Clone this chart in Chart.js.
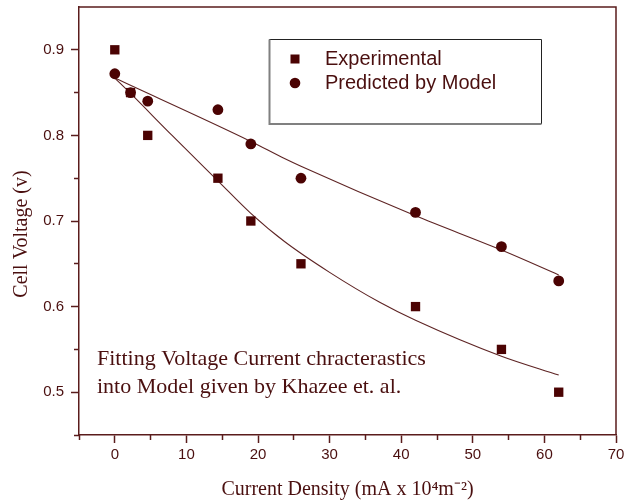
<!DOCTYPE html>
<html>
<head>
<meta charset="utf-8">
<script src="https://cdn.jsdelivr.net/npm/chart.js@4.4.0/dist/chart.umd.min.js"></script>
<style>
  html, body { margin: 0; padding: 0; background: #fff; }
  #wrap { width: 631px; height: 503px; }
</style>
</head>
<body>
<div id="wrap"><canvas id="chart" width="631" height="503"></canvas></div>
<script>
// measured points
const currentDensity = [0, 2.2, 4.6, 14.4, 19, 26, 42, 54, 62];
const experimental = [0.90, 0.85, 0.80, 0.75, 0.70, 0.65, 0.60, 0.55, 0.50];
const predicted = [0.872, 0.85, 0.84, 0.83, 0.79, 0.75, 0.71, 0.67, 0.63];

// fitted curves
const expFitX = [0, 2.2, 8, 14.4, 19, 23.7, 30, 37, 42, 54, 62];
const expFitY = [0.867, 0.849, 0.800, 0.747, 0.709, 0.676, 0.640, 0.605, 0.584, 0.542, 0.520];
const modelFitX = [0, 19, 23.7, 26, 42, 54, 62];
const modelFitY = [0.867, 0.793, 0.773, 0.764, 0.706, 0.666, 0.637];

// axes
const xTicks = [0, 10, 20, 30, 40, 50, 60, 70];
const xMinorTicks = [-5, 5, 15, 25, 35, 45, 55, 65];
const yTicks = [0.5, 0.6, 0.7, 0.8, 0.9];
const yMinorTicks = [0.45, 0.55, 0.65, 0.75, 0.85];

const markColor = "#4b0303";
const lineColor = "#5e2424";
const axisColor = "#5a1c1c";
const textColor = "#4a0f0f";
const sans = "'Liberation Sans', Arial, sans-serif";
const serif = "'Liberation Serif', 'Times New Roman', serif";

const pts = (xs, ys) => xs.map((x, i) => ({ x: x, y: ys[i] }));
const setTicks = arr => scale => { scale.ticks = arr.map(v => ({ value: v })); };
const noPad = s => { s.paddingTop = 0; s.paddingBottom = 0; s.paddingLeft = 0; s.paddingRight = 0; };

// frame, y title, legend box and the note
const extras = {
  id: "extras",
  afterDraw(chart) {
    const ctx = chart.ctx;
    const a = chart.chartArea;
    ctx.save();
    ctx.strokeStyle = axisColor;
    ctx.lineWidth = 1.5;
    ctx.beginPath();
    ctx.moveTo(a.left, a.top);
    ctx.lineTo(a.right, a.top);
    ctx.lineTo(a.right, a.bottom);
    ctx.stroke();

    // y title, sits a little below the middle in the original
    ctx.save();
    ctx.translate(22, 234);
    ctx.rotate(-Math.PI / 2);
    ctx.fillStyle = textColor;
    ctx.font = "20px " + serif;
    ctx.textAlign = "center";
    ctx.textBaseline = "middle";
    ctx.fillText("Cell Voltage (v)", 0, 0);
    ctx.restore();

    // legend
    ctx.strokeStyle = "#222";
    ctx.lineWidth = 1;
    ctx.beginPath();
    ctx.moveTo(269.5, 124);
    ctx.lineTo(269.5, 39.5);
    ctx.lineTo(541.5, 39.5);
    ctx.lineTo(541.5, 124);
    ctx.stroke();
    ctx.strokeStyle = "#808080";
    ctx.lineWidth = 2;
    ctx.beginPath();
    ctx.moveTo(269.5, 39.5);
    ctx.lineTo(269.5, 124);
    ctx.lineTo(541.5, 124);
    ctx.stroke();

    ctx.fillStyle = markColor;
    ctx.fillRect(290.5, 54.5, 9, 9);
    ctx.beginPath();
    ctx.arc(295, 83, 5.3, 0, Math.PI * 2);
    ctx.fill();

    ctx.fillStyle = textColor;
    ctx.font = "20px " + sans;
    ctx.textBaseline = "middle";
    ctx.fillText(chart.data.datasets[0].label, 325, 59);
    ctx.fillText(chart.data.datasets[1].label, 325, 83);

    ctx.font = "22px " + serif;
    ctx.textBaseline = "alphabetic";
    ctx.fillText("Fitting Voltage Current chracterastics", 97, 365);
    ctx.fillText("into Model given by Khazee et. al.", 97, 393);
    ctx.restore();
  }
};

new Chart(document.getElementById("chart"), {
  type: "scatter",
  data: {
    datasets: [
      {
        label: "Experimental",
        data: pts(currentDensity, experimental),
        pointStyle: "rect",
        pointRadius: 6.6,
        backgroundColor: markColor,
        borderWidth: 0,
        order: 1
      },
      {
        label: "Predicted by Model",
        data: pts(currentDensity, predicted),
        pointStyle: "circle",
        pointRadius: 5.4,
        backgroundColor: markColor,
        borderWidth: 0,
        order: 1
      },
      {
        label: "exp fit",
        data: pts(expFitX, expFitY),
        showLine: true,
        cubicInterpolationMode: "monotone",
        pointRadius: 0,
        borderColor: lineColor,
        borderWidth: 1.1,
        order: 2
      },
      {
        label: "model fit",
        data: pts(modelFitX, modelFitY),
        showLine: true,
        cubicInterpolationMode: "monotone",
        pointRadius: 0,
        borderColor: lineColor,
        borderWidth: 1.1,
        order: 2
      }
    ]
  },
  options: {
    responsive: false,
    animation: false,
    devicePixelRatio: 1,
    layout: { padding: { top: 7, right: 15, left: 0, bottom: 0 } },
    plugins: { legend: { display: false }, tooltip: { enabled: false } },
    scales: {
      xMinor: {
        type: "linear", position: "bottom", weight: 0, min: -5, max: 70,
        afterBuildTicks: setTicks(xMinorTicks),
        afterFit: s => { s.height = 0; noPad(s); },
        ticks: { display: false },
        border: { display: false },
        grid: { drawOnChartArea: false, tickLength: 5, tickColor: axisColor, tickWidth: 1.5 }
      },
      x: {
        type: "linear", position: "bottom", weight: 1, min: -5, max: 70,
        afterBuildTicks: setTicks(xTicks),
        afterFit: s => { s.height = 68; noPad(s); },
        ticks: { color: textColor, font: { family: sans, size: 15 }, padding: 3 },
        border: { display: true, color: axisColor, width: 1.5 },
        grid: { drawOnChartArea: false, tickLength: 8, tickColor: axisColor, tickWidth: 1.5 },
        title: {
          display: true,
          text: "Current Density (mA x 10\u2074m\u207B\u00B2)",
          color: textColor,
          font: { family: serif, size: 20 },
          padding: { top: 0, bottom: 1 }
        }
      },
      yMinor: {
        type: "linear", position: "left", weight: 0, min: 0.45, max: 0.95,
        afterBuildTicks: setTicks(yMinorTicks),
        afterFit: s => { s.width = 0; noPad(s); },
        ticks: { display: false },
        border: { display: false },
        grid: { drawOnChartArea: false, tickLength: 5, tickColor: axisColor, tickWidth: 1.5 }
      },
      y: {
        type: "linear", position: "left", weight: 1, min: 0.45, max: 0.95,
        afterBuildTicks: setTicks(yTicks),
        afterFit: s => { s.width = 79; noPad(s); },
        ticks: {
          color: textColor, font: { family: sans, size: 15 }, padding: 7,
          callback: v => v.toFixed(1)
        },
        border: { display: true, color: axisColor, width: 1.5 },
        grid: { drawOnChartArea: false, tickLength: 8, tickColor: axisColor, tickWidth: 1.5 }
      }
    }
  },
  plugins: [extras]
});
</script>
</body>
</html>
